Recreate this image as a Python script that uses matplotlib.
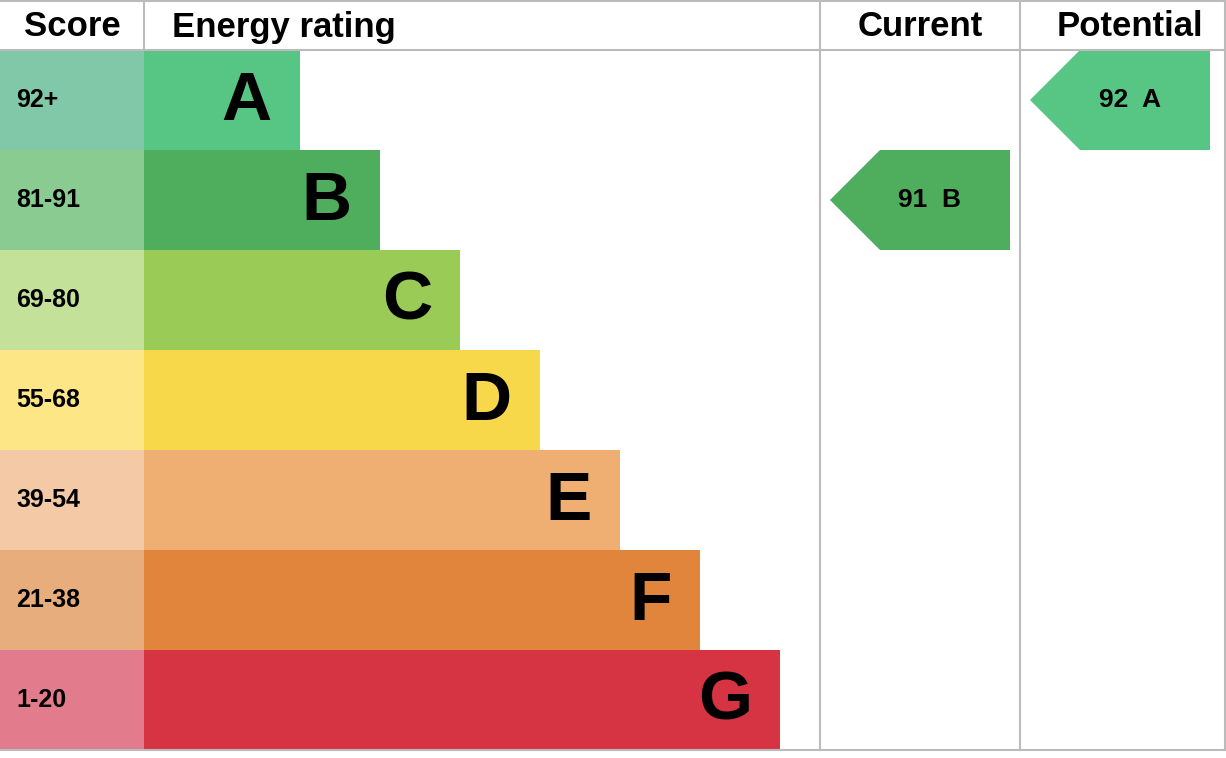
import matplotlib
matplotlib.use("Agg")
import matplotlib.pyplot as plt
from matplotlib.patches import Rectangle, Polygon

bands = ["A", "B", "C", "D", "E", "F", "G"]
score_ranges = ["92+", "81-91", "69-80", "55-68", "39-54", "21-38", "1-20"]
bar_colors = ["#57c584", "#4fae5e", "#9bcb57", "#f7d84a", "#efae72", "#e0853b", "#d63442"]
score_colors = ["#80c8a8", "#8acb91", "#c4e19a", "#fce685", "#f4c9a5", "#e8ad7d", "#e27b8c"]
current = (91, "B")
potential = (92, "A")

plt.rcParams["font.family"] = ["Liberation Sans", "DejaVu Sans"]
fig = plt.figure(figsize=(12.26, 7.58), dpi=100)
ax = fig.add_axes([0, 0, 1, 1])
ax.set_xlim(0, 1226)
ax.set_ylim(758, 0)
ax.axis("off")

top, row_h = 50, 100
grey = "#bbbbbb"

for i, (b, s) in enumerate(zip(bands, score_ranges)):
    y = top + i * row_h
    ax.add_patch(Rectangle((0, y), 144, row_h, color=score_colors[i], lw=0))
    right = 300 + i * 80
    ax.add_patch(Rectangle((144, y), right - 144, row_h, color=bar_colors[i], lw=0))
    ax.text(16, y + row_h / 2, s, fontsize=18, fontweight="bold", va="center", ha="left")
    ax.text(right - 28, y + row_h / 2 + 2, b, fontsize=50, fontweight="bold", va="center", ha="right")


def arrow(x0, value, band):
    i = bands.index(band)
    y = top + i * row_h
    pts = [(x0, y + row_h / 2), (x0 + 50, y), (x0 + 180, y), (x0 + 180, y + row_h), (x0 + 50, y + row_h)]
    ax.add_patch(Polygon(pts, closed=True, color=bar_colors[i], lw=0))
    ax.text(x0 + 100, y + row_h / 2, f"{value}  {band}", fontsize=19, fontweight="bold", va="center", ha="center")


arrow(830, *current)
arrow(1030, *potential)

for x in (820, 1020):
    ax.plot([x, x], [0, 750], color=grey, lw=1.5)
ax.plot([144, 144], [0, 50], color=grey, lw=1.5)
ax.plot([0, 1226], [50, 50], color=grey, lw=1.5)
ax.plot([0, 1226], [750, 750], color=grey, lw=1.5)
ax.plot([0, 1226], [0.5, 0.5], color=grey, lw=1.5)
ax.plot([1225, 1225], [0, 750], color=grey, lw=1.5)

for x, t in [(72, "Score"), (172, "Energy rating"), (920, "Current"), (1130, "Potential")]:
    ax.text(x, 27, t, fontsize=25, fontweight="bold", va="center", ha="left" if x == 172 else "center")

fig.savefig("out.png", dpi=100)
